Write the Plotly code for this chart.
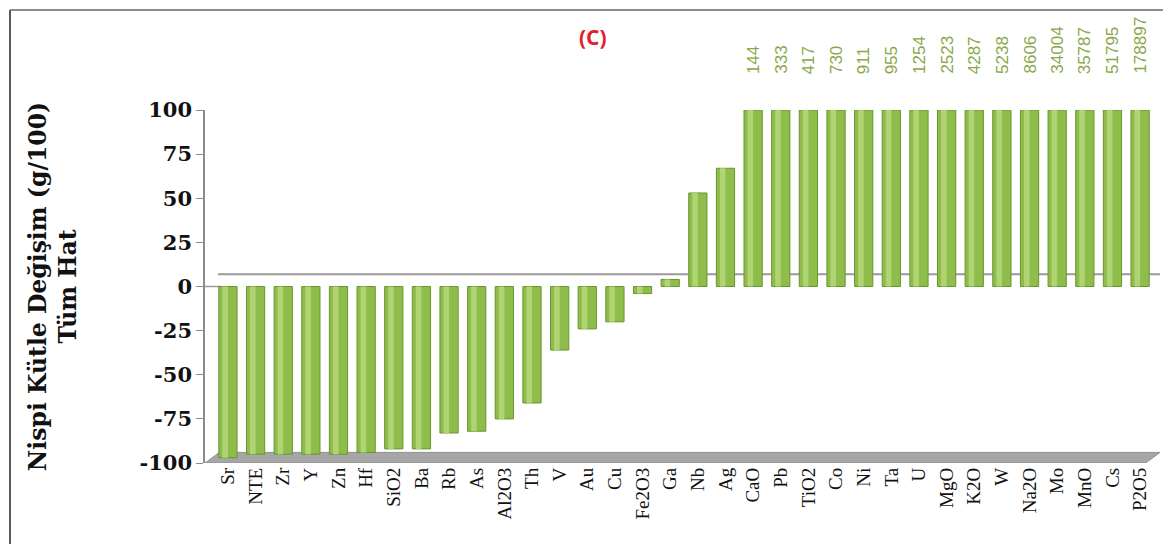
import plotly.graph_objects as go

filename = 'out.html'

categories = ['Sr', 'NTE', 'Zr', 'Y', 'Zn', 'Hf', 'SiO2', 'Ba', 'Rb', 'As',
              'Al2O3', 'Th', 'V', 'Au', 'Cu', 'Fe2O3', 'Ga', 'Nb', 'Ag', 'CaO',
              'Pb', 'TiO2', 'Co', 'Ni', 'Ta', 'U', 'MgO', 'K2O', 'W', 'Na2O',
              'Mo', 'MnO', 'Cs', 'P2O5']

values = [-97, -95, -95, -95, -95, -94, -92, -92, -83, -82,
          -75, -66, -36, -24, -20, -4, 4, 53, 67, 144,
          333, 417, 730, 911, 955, 1254, 2523, 4287, 5238, 8606,
          34004, 35787, 51795, 178897]

y_max = 100
y_ticks = [-100, -75, -50, -25, 0, 25, 50, 75, 100]
y_ticktext = [str(t) for t in y_ticks]

shown = [min(v, y_max) for v in values]

bar_green = '#8fbd4b'
light_green = '#b0d474'
edge_green = '#6a942e'
label_green = '#8aa84a'

# page has an 8px body margin, so the figure is shrunk by that much
fig = go.Figure()

fig.add_trace(go.Bar(
    x=categories, y=shown, width=0.66,
    marker=dict(color=bar_green, line=dict(color=edge_green, width=1)),
    hoverinfo='skip'
))
# lighter strip to give the bars a rounded look
fig.add_trace(go.Bar(
    x=categories, y=shown, width=0.2, offset=-0.2,
    marker=dict(color=light_green, line=dict(width=0)),
    hoverinfo='skip'
))

for cat, v in zip(categories, values):
    if v > y_max:
        fig.add_annotation(
            x=cat, y=y_max, text=str(v), showarrow=False,
            textangle=-90, yanchor='bottom', yshift=34,
            font=dict(family='Liberation Sans, Arial', size=17, color=label_green)
        )

# title "(C)"
fig.add_annotation(
    xref='paper', yref='paper', x=(593 - 205) / 955, y=(463 - 37) / 353,
    xanchor='center', yanchor='middle',
    text='<b>(C)</b>', showarrow=False,
    font=dict(family='Open Sans, Arial', size=21, color='#e0202a')
)

shapes = [
    # floor
    dict(type='path', xref='paper', yref='y',
         path='M 0,-100 L 0.015,-94 L 1,-94 L 0.985,-100 Z',
         fillcolor='#a6a6a6', line=dict(color='#909090', width=1), layer='below'),
    # back zero line
    dict(type='line', xref='paper', yref='y', x0=(218 - 205) / 955, x1=1,
         y0=7, y1=7, line=dict(color='#9a9a9a', width=2), layer='below'),
    # front zero stub
    dict(type='line', xref='paper', yref='y', x0=0, x1=(220 - 205) / 955,
         y0=0, y1=0, line=dict(color='#9a9a9a', width=1.5), layer='below'),
    # frame: left and top edges only
    dict(type='line', xref='paper', yref='paper',
         x0=(10 - 205) / 955, x1=(10 - 205) / 955,
         y0=(463 - 544) / 353, y1=(463 - 10) / 353,
         line=dict(color='#222222', width=1.5)),
    dict(type='line', xref='paper', yref='paper',
         x0=(10 - 205) / 955, x1=(1171 - 205) / 955,
         y0=(463 - 10) / 353, y1=(463 - 10) / 353,
         line=dict(color='#666666', width=1.5)),
]

fig.update_layout(
    width=1163, height=536,
    margin=dict(l=197, r=11, t=102, b=81),
    paper_bgcolor='white', plot_bgcolor='white',
    barmode='overlay', showlegend=False,
    shapes=shapes,
    xaxis=dict(
        range=[-0.83, 33.72], tickangle=-90, showgrid=False, showline=False,
        ticks='', tickfont=dict(family='Liberation Serif, Times New Roman', size=19, color='#111111'),
        fixedrange=True
    ),
    yaxis=dict(
        range=[-100, 100], tickvals=y_ticks, ticktext=y_ticktext,
        showgrid=False, zeroline=False,
        showline=True, linecolor='#8c8c8c', linewidth=1.5,
        ticks='outside', ticklen=7, tickcolor='#8c8c8c',
        tickfont=dict(family='DejaVu Serif', size=21, color='#111111', weight='bold'),
        title=dict(text='Nispi Kütle Değişim (g/100)<br>Tüm Hat', standoff=56,
                   font=dict(family='DejaVu Serif', size=23.5,
                             color='#111111', weight='bold')),
        fixedrange=True
    ),
)

fig.write_html(filename)
